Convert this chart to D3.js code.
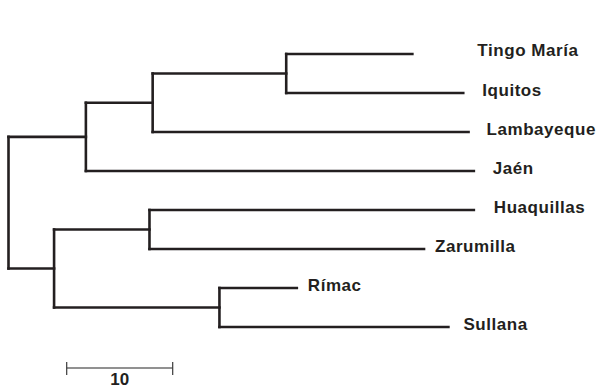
<!DOCTYPE html>
<html>
<head>
<meta charset="utf-8">
<script src="https://cdn.jsdelivr.net/npm/d3@7"></script>
<style>
  body { margin: 0; background: #fff; }
  svg text { font-family: "Liberation Sans", Arial, sans-serif; font-weight: bold; font-size: 17px; letter-spacing: 0.55px; fill: #231f20; }
</style>
</head>
<body>
<svg id="chart" width="603" height="389"></svg>
<script>
// tree as a parent table; branch lengths in distance units
var nodeIds = ["root", "A", "B", "C", "Tingo María", "Iquitos", "Lambayeque", "Jaén",
               "D", "E", "Huaquillas", "Zarumilla", "F", "Rímac", "Sullana"];
var parentIds = ["", "root", "A", "B", "C", "C", "B", "A",
                 "root", "D", "E", "E", "D", "F", "F"];
var branchLengths = [0, 7.3, 6.3, 12.6, 11.9, 16.7, 29.8, 36.6,
                     4.3, 9.0, 30.6, 25.9, 15.6, 7.3, 21.6];
var scaleBarValue = 10;

// label gap after each leaf (layout only)
var labelGap = {"Tingo María": 65, "Iquitos": 19, "Lambayeque": 18, "Jaén": 19,
                "Huaquillas": 20, "Zarumilla": 11, "Rímac": 11, "Sullana": 15};
var labelDy = {"Tingo María": -1};

var svg = d3.select("svg");

var table = nodeIds.map(function(id, i) {
  return {id: id, parent: parentIds[i] || null, len: branchLengths[i]};
});
var root = d3.stratify()
    .id(function(d) { return d.id; })
    .parentId(function(d) { return d.parent; })(table);

// cumulative distance from root
root.each(function(n) {
  n.dist = n.parent ? n.parent.dist + n.data.len : 0;
});

var pxPerUnit = 10.6;
var maxDist = d3.max(root.leaves(), function(d) { return d.dist; });
var x = d3.scaleLinear()
    .domain([0, maxDist])
    .range([8.5, 8.5 + maxDist * pxPerUnit]);

var leaves = root.leaves();
var y = d3.scalePoint()
    .domain(leaves.map(function(d) { return d.id; }))
    .range([54, 327]);

root.eachAfter(function(n) {
  if (!n.children) n.py = y(n.id);
  else n.py = (n.children[0].py + n.children[n.children.length - 1].py) / 2;
  n.px = x(n.dist);
});

var g = svg.append("g")
    .attr("stroke", "#231f20")
    .attr("stroke-width", 2.6)
    .attr("stroke-linecap", "square")
    .attr("fill", "none");

// horizontal branches
g.selectAll(".h")
  .data(root.descendants().filter(function(d) { return d.parent; }))
  .enter().append("line")
    .attr("x1", function(d) { return d.parent.px; })
    .attr("x2", function(d) { return d.px; })
    .attr("y1", function(d) { return d.py; })
    .attr("y2", function(d) { return d.py; });

// vertical connectors
g.selectAll(".v")
  .data(root.descendants().filter(function(d) { return d.children; }))
  .enter().append("line")
    .attr("x1", function(d) { return d.px; })
    .attr("x2", function(d) { return d.px; })
    .attr("y1", function(d) { return d.children[0].py; })
    .attr("y2", function(d) { return d.children[d.children.length - 1].py; });

// leaf labels
svg.selectAll(".label")
  .data(leaves)
  .enter().append("text")
    .attr("x", function(d) { return d.px + labelGap[d.id]; })
    .attr("y", function(d) { return d.py + 2.5 + (labelDy[d.id] || 0); })
    .text(function(d) { return d.id; });

// scale bar
var barX = 66.7, barY = 368;
var barW = x(scaleBarValue) - x(0);
var bar = svg.append("g");
bar.append("line")
    .attr("x1", barX).attr("x2", barX + barW)
    .attr("y1", barY).attr("y2", barY)
    .attr("stroke", "#6d6d6d")
    .attr("stroke-width", 1.6);
bar.selectAll(".tick")
  .data([0, scaleBarValue])
  .enter().append("line")
    .attr("x1", function(d) { return barX + d * pxPerUnit; })
    .attr("x2", function(d) { return barX + d * pxPerUnit; })
    .attr("y1", barY - 6).attr("y2", barY + 7)
    .attr("stroke", "#3a3a3a")
    .attr("stroke-width", 1.2);
bar.append("text")
    .attr("x", barX + barW / 2)
    .attr("y", 385)
    .attr("text-anchor", "middle")
    .style("letter-spacing", "0px")
    .text(scaleBarValue);
</script>
</body>
</html>
